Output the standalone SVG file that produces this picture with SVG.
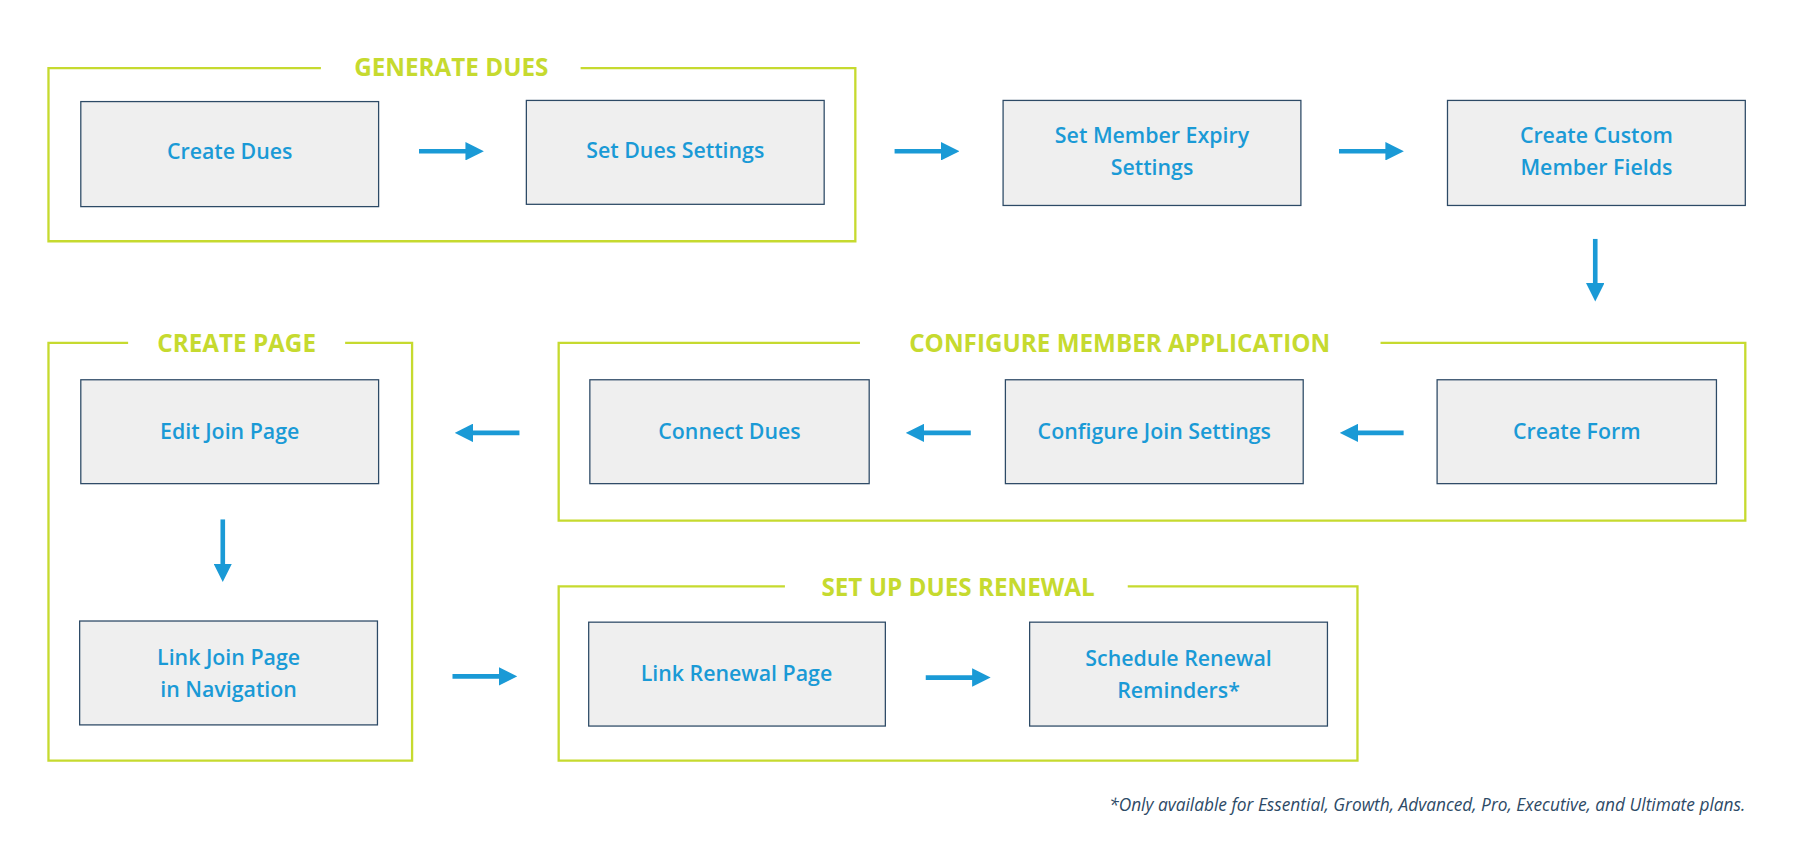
<svg xmlns="http://www.w3.org/2000/svg" width="1810" height="841" viewBox="0 0 1810 841">
<defs>
<marker id="ah" markerWidth="4" markerHeight="4" refX="2.2" refY="2" orient="auto" markerUnits="strokeWidth" viewBox="0 0 4 4"><path d="M0,0 L4,2 L0,4 Z" fill="#1a9ad6"/></marker>
</defs>
<style>
.grp{fill:none;stroke:#c6da2f;stroke-width:2}
.gt{font-family:"Open Sans",sans-serif;font-weight:700;font-size:21px;fill:#c6da2f;text-anchor:middle}
.n{fill:#efefef;stroke:#2d4a66;stroke-width:1.1}
.t{font-family:"Open Sans",sans-serif;font-weight:600;font-size:18.5px;fill:#1a9ad6;text-anchor:middle}
.c{stroke:#1a9ad6;stroke-width:4;fill:none;marker-end:url(#ah)}
.fn{font-family:"Open Sans",sans-serif;font-style:italic;font-size:15px;fill:#2d4a66;text-anchor:end}
</style>
<rect width="1810" height="841" fill="#fff"/>
<g transform="scale(1.1543)">
<g id="group-generate">
<path class="grp" d="M278,59 H42 V209 H741 V59 H503"/>
<text class="gt" x="391" y="66">GENERATE DUES</text>
</g>
<g id="group-page">
<path class="grp" d="M111,297 H42 V659 H357 V297 H299"/>
<text class="gt" x="205" y="305">CREATE PAGE</text>
</g>
<g id="group-configure">
<path class="grp" d="M745,297 H484 V451 H1512 V297 H1196"/>
<text class="gt" x="970" y="305">CONFIGURE MEMBER APPLICATION</text>
</g>
<g id="group-renewal">
<path class="grp" d="M680,508 H484 V659 H1176 V508 H977"/>
<text class="gt" x="830" y="516">SET UP DUES RENEWAL</text>
</g>
<g id="create-dues"><rect class="n" x="70" y="88" width="258" height="91"/><text class="t" x="199" y="138">Create Dues</text></g>
<g id="set-dues-settings"><rect class="n" x="456" y="87" width="258" height="90"/><text class="t" x="585" y="137">Set Dues Settings</text></g>
<g id="set-member-expiry"><rect class="n" x="869" y="87" width="258" height="91"/><text class="t" x="998" y="124">Set Member Expiry</text><text class="t" x="998" y="152">Settings</text></g>
<g id="create-custom-fields"><rect class="n" x="1254" y="87" width="258" height="91"/><text class="t" x="1383" y="124">Create Custom</text><text class="t" x="1383" y="152">Member Fields</text></g>
<g id="edit-join-page"><rect class="n" x="70" y="329" width="258" height="90"/><text class="t" x="199" y="380">Edit Join Page</text></g>
<g id="link-join-page"><rect class="n" x="69" y="538" width="258" height="90"/><text class="t" x="198" y="576">Link Join Page</text><text class="t" x="198" y="604">in Navigation</text></g>
<g id="connect-dues"><rect class="n" x="511" y="329" width="242" height="90"/><text class="t" x="632" y="380">Connect Dues</text></g>
<g id="configure-join"><rect class="n" x="871" y="329" width="258" height="90"/><text class="t" x="1000" y="380">Configure Join Settings</text></g>
<g id="create-form"><rect class="n" x="1245" y="329" width="242" height="90"/><text class="t" x="1366" y="380">Create Form</text></g>
<g id="link-renewal"><rect class="n" x="510" y="539" width="257" height="90"/><text class="t" x="638" y="590">Link Renewal Page</text></g>
<g id="schedule-reminders"><rect class="n" x="892" y="539" width="258" height="90"/><text class="t" x="1021" y="577">Schedule Renewal</text><text class="t" x="1021" y="605">Reminders*</text></g>
<g id="connectors">
<path class="c" d="M363,131 H412"/>
<path class="c" d="M775,131 H824"/>
<path class="c" d="M1160,131 H1209"/>
<path class="c" d="M1382,207 V254"/>
<path class="c" d="M1216,375 H1168"/>
<path class="c" d="M841,375 H792"/>
<path class="c" d="M450,375 H401"/>
<path class="c" d="M193,450 V497"/>
<path class="c" d="M392,586 H441"/>
<path class="c" d="M802,587 H851"/>
</g>
<text class="fn" x="1512" y="703">*Only available for Essential, Growth, Advanced, Pro, Executive, and Ultimate plans.</text>
</g>
</svg>
